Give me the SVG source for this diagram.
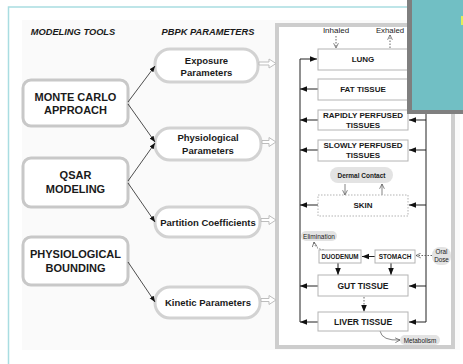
<svg xmlns="http://www.w3.org/2000/svg" width="463" height="364" viewBox="0 0 463 364">
<style>
text{font-family:"Liberation Sans",Arial,sans-serif;fill:#1a1a1a;text-anchor:middle;dominant-baseline:central}
.b{font-weight:bold}
.hd{font-weight:bold;font-style:italic;font-size:9.3px}
.tool{fill:#fff;stroke:#c8c8c8;stroke-width:3}
.param{fill:#fff;stroke:#d2d2d2;stroke-width:3}
.comp{fill:#fff;stroke:#b4b4b4;stroke-width:1}
.pill{fill:#e3e3e3;stroke:none}
.thin{stroke:#222;stroke-width:0.8;fill:none}
.flow{stroke:#222;stroke-width:1;fill:none}
.dot{stroke:#555;stroke-width:0.9;fill:none;stroke-dasharray:1.5,1.5}
.gry{stroke:#666;stroke-width:0.8;fill:none}
.hollow{fill:#fff;stroke:#bdbdbd;stroke-width:1}
</style>
<defs>
<marker id="sm" viewBox="0 0 10 10" refX="10" refY="5" markerWidth="6" markerHeight="6" orient="auto" markerUnits="userSpaceOnUse"><path d="M0,1 L10,5 L0,9 z" fill="#111"/></marker>
<marker id="fa" viewBox="0 0 10 10" refX="10" refY="5" markerWidth="7" markerHeight="7" orient="auto" markerUnits="userSpaceOnUse"><path d="M0,1 L10,5 L0,9 z" fill="#111"/></marker>
<marker id="oa" viewBox="0 0 10 10" refX="9" refY="5" markerWidth="6" markerHeight="6" orient="auto" markerUnits="userSpaceOnUse"><path d="M1,1 L9,5 L1,9" fill="none" stroke="#555" stroke-width="1.2"/></marker>
</defs>
<rect x="0" y="0" width="463" height="364" fill="#fff"/>
<rect x="22" y="20" width="438" height="330" fill="#fafafa"/>
<path d="M8.5,364 V7 H410" fill="none" stroke="#a9dde1" stroke-width="1.5"/>
<text class="hd" x="73" y="32">MODELING TOOLS</text>
<text class="hd" x="208" y="32">PBPK PARAMETERS</text>

<g id="monte-carlo"><rect class="tool" x="23" y="80" width="105" height="46" rx="8"/><text class="b" font-size="11" x="75.5" y="97">MONTE CARLO</text><text class="b" font-size="11" x="75.5" y="110">APPROACH</text></g>
<g id="qsar"><rect class="tool" x="23" y="158" width="105" height="49" rx="8"/><text class="b" font-size="11" x="75.5" y="175">QSAR</text><text class="b" font-size="11" x="75.5" y="189">MODELING</text></g>
<g id="phys-bounding"><rect class="tool" x="23" y="237" width="105" height="48" rx="8"/><text class="b" font-size="11" x="75.5" y="254">PHYSIOLOGICAL</text><text class="b" font-size="11" x="75.5" y="268">BOUNDING</text></g>

<g id="exposure"><rect class="param" x="155" y="49" width="103" height="33" rx="15"/><text class="b" font-size="9.5" x="206.5" y="60">Exposure</text><text class="b" font-size="9.5" x="206.5" y="72">Parameters</text></g>
<g id="physiological"><rect class="param" x="155" y="128" width="106" height="32" rx="15"/><text class="b" font-size="9.5" x="208" y="137">Physiological</text><text class="b" font-size="9.5" x="208" y="150">Parameters</text></g>
<g id="partition"><rect class="param" x="155" y="207" width="105" height="30" rx="14"/><text class="b" font-size="9.5" x="208" y="222">Partition Coefficients</text></g>
<g id="kinetic"><rect class="param" x="155" y="287" width="105" height="31" rx="15"/><text class="b" font-size="9.5" x="208" y="302">Kinetic Parameters</text></g>

<g id="pbpk-model"><rect x="277" y="25" width="176" height="322" fill="#fff" stroke="#cdcdcd" stroke-width="4"/></g>

<g id="connectors">
<line class="thin" x1="128" y1="102" x2="155" y2="66" marker-end="url(#sm)"/>
<line class="thin" x1="128" y1="104" x2="155" y2="142" marker-end="url(#sm)"/>
<line class="thin" x1="128" y1="181" x2="155" y2="143" marker-end="url(#sm)"/>
<line class="thin" x1="128" y1="183" x2="155" y2="222" marker-end="url(#sm)"/>
<line class="thin" x1="128" y1="262" x2="155" y2="302" marker-end="url(#sm)"/>
<path class="hollow" d="M259,62 H269 V59 L276,63.5 L269,68 V65 H259 Z"/>
<path class="hollow" d="M262,140.5 H269 V137.5 L276,142 L269,146.5 V143.5 H262 Z"/>
<path class="hollow" d="M261,218.5 H269 V215.5 L276,220 L269,224.5 V221.5 H261 Z"/>
<path class="hollow" d="M261,298.5 H269 V295.5 L276,300 L269,304.5 V301.5 H261 Z"/>
<path class="flow" d="M300,322 V59 H317" marker-end="url(#fa)"/>
<line class="flow" x1="318" y1="89" x2="300" y2="89" marker-end="url(#fa)"/>
<line class="flow" x1="318" y1="120" x2="300" y2="120" marker-end="url(#fa)"/>
<line class="flow" x1="318" y1="150" x2="300" y2="150" marker-end="url(#fa)"/>
<line class="flow" x1="318" y1="205" x2="300" y2="205" marker-end="url(#fa)"/>
<line class="flow" x1="318" y1="286" x2="300" y2="286" marker-end="url(#fa)"/>
<line class="flow" x1="318" y1="322" x2="300" y2="322" marker-end="url(#fa)"/>
<path class="flow" d="M408,59 H426 V322"/>
<line class="flow" x1="426" y1="89" x2="409" y2="89" marker-end="url(#fa)"/>
<line class="flow" x1="426" y1="120" x2="409" y2="120" marker-end="url(#fa)"/>
<line class="flow" x1="426" y1="150" x2="409" y2="150" marker-end="url(#fa)"/>
<line class="flow" x1="426" y1="205" x2="409" y2="205" marker-end="url(#fa)"/>
<line class="flow" x1="426" y1="286" x2="409" y2="286" marker-end="url(#fa)"/>
<line class="flow" x1="426" y1="322" x2="409" y2="322" marker-end="url(#fa)"/>
<line class="dot" x1="336" y1="36" x2="336" y2="48" marker-end="url(#oa)"/>
<line class="dot" x1="390" y1="48" x2="390" y2="35" marker-end="url(#oa)"/>
<line class="gry" x1="345" y1="184" x2="345" y2="195" marker-end="url(#oa)"/>
<line class="gry" x1="382" y1="195" x2="382" y2="184" marker-end="url(#oa)"/>
<path class="dot" d="M324,250 Q315,249 314,242" marker-end="url(#oa)"/>
<line class="flow" x1="375" y1="256.5" x2="362" y2="256.5" marker-end="url(#fa)"/>
<line class="dot" x1="432" y1="255.5" x2="416" y2="255.5" marker-end="url(#oa)"/>
<line class="flow" x1="338" y1="263" x2="338" y2="275" marker-end="url(#fa)"/>
<line class="flow" x1="391" y1="263" x2="391" y2="275" marker-end="url(#fa)"/>
<line class="dot" x1="364" y1="297" x2="364" y2="312" marker-end="url(#fa)"/>
<path class="gry" d="M380,331 Q382,341 400,340" marker-end="url(#oa)"/>
</g>

<text font-size="8" x="336" y="30">Inhaled</text>
<text font-size="7.8" x="390" y="30">Exhaled</text>

<g id="lung"><rect class="comp" x="318" y="49" width="90" height="21"/><text class="b" font-size="8" x="363" y="59.5">LUNG</text></g>
<g id="fat"><rect class="comp" x="318" y="79" width="90" height="21"/><text class="b" font-size="8" x="363" y="89.5">FAT TISSUE</text></g>
<g id="rapidly"><rect class="comp" x="318" y="110" width="90" height="20"/><text class="b" font-size="8" x="363" y="115">RAPIDLY PERFUSED</text><text class="b" font-size="8" x="363" y="125.5">TISSUES</text></g>
<g id="slowly"><rect class="comp" x="318" y="140" width="90" height="21"/><text class="b" font-size="8" x="363" y="145">SLOWLY PERFUSED</text><text class="b" font-size="8" x="363" y="155.5">TISSUES</text></g>
<g id="dermal"><rect class="pill" x="330" y="167" width="63" height="16" rx="8"/><text class="b" font-size="6.5" x="361.5" y="175">Dermal Contact</text></g>
<g id="skin"><rect x="318" y="195" width="90" height="21" fill="#fff" stroke="#aaa" stroke-width="0.9" stroke-dasharray="1.5,1.5"/><text class="b" font-size="8" x="363" y="205.5">SKIN</text></g>
<g id="elimination"><rect class="pill" x="301" y="231" width="36" height="10" rx="5"/><text font-size="6.5" x="319" y="236">Elimination</text></g>
<g id="duodenum"><rect class="comp" x="319" y="250" width="42" height="13"/><text class="b" font-size="6.3" x="340" y="256.5">DUODENUM</text></g>
<g id="stomach"><rect class="comp" x="375" y="250" width="40" height="13"/><text class="b" font-size="6.5" x="395" y="256.5">STOMACH</text></g>
<g id="oral-dose"><rect class="pill" x="432" y="247" width="19" height="18" rx="8"/><text font-size="6.3" x="441.5" y="251.5">Oral</text><text font-size="6.3" x="441.5" y="259.5">Dose</text></g>
<g id="gut"><rect class="comp" x="318" y="275" width="90" height="21"/><text class="b" font-size="8.5" x="363" y="285.5">GUT TISSUE</text></g>
<g id="liver"><rect class="comp" x="318" y="312" width="90" height="19"/><text class="b" font-size="8.5" x="363" y="321.5">LIVER TISSUE</text></g>
<g id="metabolism"><rect class="pill" x="400" y="335" width="40" height="10" rx="5"/><text font-size="6.4" x="420" y="340">Metabolism</text></g>

<g id="overlay"><rect x="407" y="-1" width="57" height="115" fill="#7f7f7f"/><rect x="412" y="-1" width="52" height="111" fill="#71bfc4"/><rect x="461" y="16" width="2" height="9" fill="#e2ee5a"/></g>
</svg>
